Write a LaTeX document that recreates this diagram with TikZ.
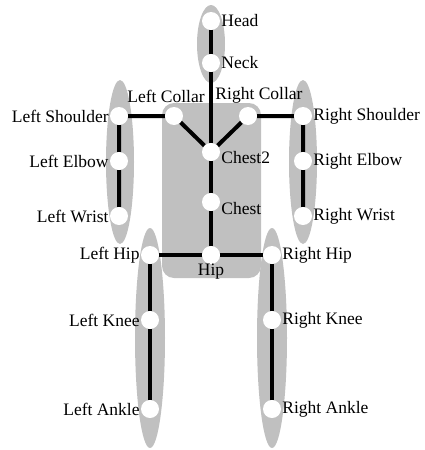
\documentclass[tikz,border=0pt]{standalone}
\usepackage{fontspec}
\setmainfont{Liberation Serif}
\definecolor{limb}{HTML}{C0C0C0}

\begin{document}
\begin{tikzpicture}[
    x=1pt, y=-1pt,
    joint/.style={circle, fill=white, minimum size=18pt, inner sep=0pt},
    bone/.style={line width=4pt, black},
    part/.style={fill=limb, draw=none},
    lbl/.style={font=\fontsize{17.5}{20}\selectfont, inner sep=1pt},
    label distance=0pt
  ]
    \useasboundingbox (0,0) rectangle (424,450);

    % body parts
    \fill[part] (211,44) ellipse [x radius=14pt, y radius=39pt];
    \fill[part] (120,162) ellipse [x radius=14pt, y radius=82pt];
    \fill[part] (303,162) ellipse [x radius=14pt, y radius=82pt];
    \fill[part] (150,338) ellipse [x radius=15pt, y radius=110pt];
    \fill[part] (272,338) ellipse [x radius=15pt, y radius=110pt];
    \fill[part, rounded corners=12pt] (162,103) rectangle (261,278);

    % joints
    \node[joint, label={[lbl]right:Head}] (head) at (211,21) {};
    \node[joint, label={[lbl]right:Neck}] (neck) at (211,63) {};
    \node[joint, label={[lbl, yshift=-6pt]right:Chest2}] (chest2) at (211,152) {};
    \node[joint, label={[lbl, yshift=-7pt]right:Chest}] (chest) at (211,202) {};
    \node[joint, label={[lbl, yshift=1pt]below:Hip}] (hip) at (211,255) {};
    \node[joint, label={[lbl, xshift=-8pt, yshift=3pt]above:Left Collar}] (lcollar) at (174,116) {};
    \node[joint, label={[lbl, xshift=11pt, yshift=2pt]above:Right Collar}] (rcollar) at (248,116) {};
    \node[joint, label={[lbl]left:Left Shoulder}] (lshoulder) at (119,116) {};
    \node[joint, label={[lbl]right:Right Shoulder}] (rshoulder) at (303,116) {};
    \node[joint, label={[lbl]left:Left Elbow}] (lelbow) at (119,161) {};
    \node[joint, label={[lbl]right:Right Elbow}] (relbow) at (303,161) {};
    \node[joint, label={[lbl]left:Left Wrist}] (lwrist) at (119,216) {};
    \node[joint, label={[lbl]right:Right Wrist}] (rwrist) at (303,216) {};
    \node[joint, label={[lbl]left:Left Hip}] (lhip) at (150,255) {};
    \node[joint, label={[lbl]right:Right Hip}] (rhip) at (272,255) {};
    \node[joint, label={[lbl]left:Left Knee}] (lknee) at (150,320) {};
    \node[joint, label={[lbl]right:Right Knee}] (rknee) at (272,320) {};
    \node[joint, label={[lbl]left:Left Ankle}] (lankle) at (150,409) {};
    \node[joint, label={[lbl]right:Right Ankle}] (rankle) at (272,409) {};

    % bones
    \draw[bone] (head) -- (neck) -- (chest2) -- (chest) -- (hip);
    \draw[bone] (chest2) -- (lcollar) -- (lshoulder) -- (lelbow) -- (lwrist);
    \draw[bone] (chest2) -- (rcollar) -- (rshoulder) -- (relbow) -- (rwrist);
    \draw[bone] (hip) -- (lhip) -- (lknee) -- (lankle);
    \draw[bone] (hip) -- (rhip) -- (rknee) -- (rankle);
  \end{tikzpicture}
\end{document}
